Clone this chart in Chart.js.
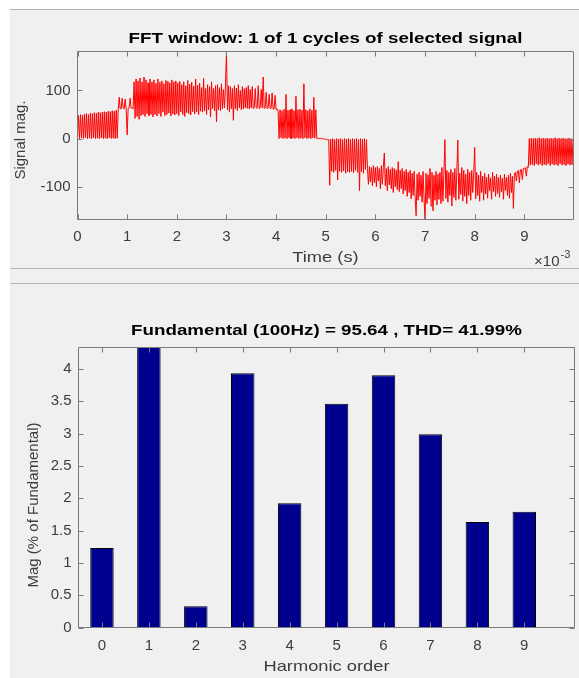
<!DOCTYPE html>
<html><head><meta charset="utf-8">
<script src="https://cdn.jsdelivr.net/npm/chart.js@4.4.1/dist/chart.umd.min.js"></script>
<style>
html,body{margin:0;padding:0;background:#fff;width:579px;height:678px;overflow:hidden;}
#bg{position:absolute;left:10px;top:9px;width:569px;height:668px;background:#f0f0f0;border-top:1px solid #b4b4b4;}
.sep{position:absolute;left:10px;width:569px;height:1px;background:#b4b4b4;}
canvas{position:absolute;left:0;}
</style></head><body>
<div id="bg"></div>
<div class="sep" style="top:268px"></div>
<div class="sep" style="top:283px"></div>
<canvas id="topChart" width="579" height="268" style="top:0"></canvas>
<canvas id="botChart" width="579" height="394" style="top:284px"></canvas>
<script>
// ---------- DATA ----------
const SAMPLE_DT = 0.02e-3; // seconds between samples
const signalValues = [
 2,48,0,50,1,49,0,51,2,52,0,50,1,53,0,52,2,54,0,53,1,55,0,54,2,
 55,0,56,1,55,0,57,2,56,0,58,1,57,0,59,1,60,86,62,62,84,63,62,82,62,
 8,63,64,84,63,64,62,118,42,124,46,120,40,126,48,118,50,128,46,122,52,116,48,124,50,
 118,45,122,50,115,47,124,52,117,46,120,55,114,48,121,50,119,53,116,47,122,51,118,49,120,
 52,116,48,119,55,112,50,118,46,110,54,121,52,113,49,117,56,109,51,124,55,111,50,115,57,
 106,55,125,58,104,50,112,60,108,45,118,62,104,58,110,35,112,60,106,58,114,62,102,64,108,
 180,60,110,55,108,62,104,38,110,62,105,58,112,64,100,60,108,62,104,64,106,63,110,62,102,
 64,108,62,65,104,63,64,110,62,65,102,64,128,63,64,96,62,64,92,62,63,95,61,62,90,
 60,62,58,0,60,2,58,0,61,1,92,0,59,2,60,0,62,1,58,0,88,2,60,0,61,
 1,59,0,114,2,60,0,58,1,62,0,59,2,86,1,60,0,1,0,0,1,0,-1,0,-1,
 -2,-1,-3,-2,-97,-1,-68,0,-70,-2,-66,0,-86,-1,-68,0,-70,-2,-67,0,-72,-1,-69,0,-70,
 -2,-68,0,-71,-1,-66,0,-70,-2,-108,0,-69,-1,-72,0,-64,-2,-62,-95,-58,-90,-60,-98,-56,-92,
 -60,-100,-58,-88,-62,-104,-56,-95,-60,-30,-98,-62,-108,-58,-96,-64,-104,-60,-112,-62,-100,-65,-106,-48,-110,
 -66,-104,-62,-115,-68,-108,-64,-120,-70,-112,-66,-125,-72,-118,-68,-122,-160,-74,-128,-70,-120,-76,-132,-68,-125,
 -168,-72,-135,-75,-124,-62,-140,-70,-150,-76,-128,-68,-138,-74,-126,-70,-135,-60,-130,-72,-2,-124,-66,-132,-70,
 -118,-64,-140,-70,-122,-62,-128,-68,-3,-126,-72,-116,-60,-130,-66,-120,-74,-135,-64,-118,-70,-128,-66,-112,-72,
 -18,-125,-70,-118,-76,-130,-68,-112,-78,-128,-72,-115,-80,-124,-74,-108,-82,-126,-70,-110,-78,-120,-74,-114,-80,
 -122,-76,-110,-82,-126,-74,-108,-80,-118,-76,-124,-72,-112,-78,-145,-72,-70,-88,-68,-66,-92,-65,-64,-85,-62,
 -62,-60,-78,-58,-60,0,-55,1,-54,0,-56,1,-52,0,-55,2,-53,0,-56,1,-54,0,-55,1,-52,
 0,-56,1,-53,0,-55,2,-54,0,-56,1,-52,0,-55,1,-54,0,-56,0,-53,1,-55,0,-54,0
];
const timeTicksMs = [0,1,2,3,4,5,6,7,8,9];
const signalTicks = [-100,0,100];

const harmonicOrders = [0,1,2,3,4,5,6,7,8,9];
const harmonicMags = [1.23,100,0.33,3.93,1.92,3.46,3.90,2.99,1.63,1.79];
const magTicks = [0,0.5,1,1.5,2,2.5,3,3.5,4];
const magTickLabels = ['0','0.5','1','1.5','2','2.5','3','3.5','4'];

// ---------- STYLE ----------
const FONT = "'Liberation Sans', Arial, Helvetica, sans-serif";
const BOX = '#7a7a7a';
const TXT = '#3c3c3c';

function stretchedText(ctx, text, x, y, sx, font, color) {
  ctx.save();
  ctx.font = font; ctx.fillStyle = color;
  ctx.textAlign = 'center'; ctx.textBaseline = 'middle';
  ctx.translate(x, y); ctx.scale(sx, 1);
  ctx.fillText(text, 0, 0);
  ctx.restore();
}

const matlabBox = {
  id: 'matlabBox',
  afterDraw(chart, args, o) {
    const {ctx, chartArea: a, scales} = chart;
    ctx.save();
    ctx.strokeStyle = BOX; ctx.lineWidth = 1;
    ctx.beginPath();
    ctx.rect(a.left, a.top, a.right - a.left, a.bottom - a.top);
    const TL = 5;
    scales.x.ticks.forEach(t => {
      const px = Math.round(scales.x.getPixelForValue(t.value)) + 0.5;
      ctx.moveTo(px, a.bottom); ctx.lineTo(px, a.bottom - TL);
      ctx.moveTo(px, a.top); ctx.lineTo(px, a.top + TL);
    });
    scales.y.ticks.forEach(t => {
      const py = Math.round(scales.y.getPixelForValue(t.value)) + 0.5;
      ctx.moveTo(a.left, py); ctx.lineTo(a.left + TL, py);
      ctx.moveTo(a.right, py); ctx.lineTo(a.right - TL, py);
    });
    ctx.stroke();
    ctx.restore();
    const cx = (a.left + a.right) / 2;
    // title
    stretchedText(ctx, o.title, cx, o.titleY, 1.25, 'bold 15px ' + FONT, '#000');
    // x label
    stretchedText(ctx, o.xLabel, cx, o.xLabelY, 1.22, '15px ' + FONT, TXT);
    // y label (rotated)
    ctx.save();
    ctx.font = '15px ' + FONT; ctx.fillStyle = TXT;
    ctx.textAlign = 'center'; ctx.textBaseline = 'middle';
    ctx.translate(o.yLabelX, o.yLabelY); ctx.rotate(-Math.PI / 2);
    ctx.fillText(o.yLabel, 0, 0);
    ctx.restore();
    if (o.exponent) {
      ctx.save();
      ctx.fillStyle = TXT; ctx.textBaseline = 'middle';
      ctx.font = '15px ' + FONT;
      ctx.textAlign = 'right';
      ctx.fillText('\u00d710', a.right - 14, o.expY);
      ctx.font = '11px ' + FONT;
      ctx.textAlign = 'left';
      ctx.fillText('-3', a.right - 13, o.expY - 7);
      ctx.restore();
    }
  }
};

const common = {responsive: false, animation: false, devicePixelRatio: 1, events: []};

// ---------- TOP: signal ----------
new Chart(document.getElementById('topChart'), {
  type: 'line',
  data: {
    datasets: [{
      data: signalValues.map((v, i) => ({x: i * SAMPLE_DT, y: v})),
      borderColor: '#ff0000', borderWidth: 1, pointRadius: 0, tension: 0, fill: false
    }]
  },
  options: Object.assign({}, common, {
    layout: {padding: {left: 0, right: 5.5, top: 51.5, bottom: 0}},
    plugins: {
      legend: {display: false}, tooltip: {enabled: false},
      matlabBox: {
        title: 'FFT window: 1 of 1 cycles of selected signal', titleY: 39,
        xLabel: 'Time (s)', xLabelY: 258,
        yLabel: 'Signal mag.', yLabelX: 21, yLabelY: 140,
        exponent: true, expY: 262
      }
    },
    scales: {
      x: {
        type: 'linear', min: 0, max: 0.00999,
        afterBuildTicks: s => { s.ticks = timeTicksMs.map(v => ({value: v / 1000})); },
        afterFit: s => { s.height = 48.5; },
        ticks: {callback: (v, i) => String(timeTicksMs[i]), color: TXT, font: {family: FONT, size: 15}, padding: 8, maxRotation: 0, autoSkip: false},
        grid: {display: false, drawTicks: false},
        border: {display: false}
      },
      y: {
        min: -168, max: 181,
        afterBuildTicks: s => { s.ticks = signalTicks.map(v => ({value: v})); },
        afterFit: s => { s.width = 77.5; },
        ticks: {callback: (v, i) => String(signalTicks[i]), color: TXT, font: {family: FONT, size: 15}, padding: 7},
        grid: {display: false, drawTicks: false},
        border: {display: false}
      }
    }
  }),
  plugins: [matlabBox]
});

// ---------- BOTTOM: harmonics ----------
new Chart(document.getElementById('botChart'), {
  type: 'bar',
  data: {
    datasets: [{
      data: harmonicOrders.map((h, i) => ({x: h, y: harmonicMags[i]})),
      backgroundColor: '#00008f', borderColor: '#000000', borderWidth: 1,
      barPercentage: 0.5, categoryPercentage: 1
    }]
  },
  options: Object.assign({}, common, {
    layout: {padding: {left: 0, right: 4.5, top: 63.5, bottom: 0}},
    plugins: {
      legend: {display: false}, tooltip: {enabled: false},
      matlabBox: {
        title: 'Fundamental (100Hz) = 95.64 , THD= 41.99%', titleY: 47,
        xLabel: 'Harmonic order', xLabelY: 383,
        yLabel: 'Mag (% of Fundamental)', yLabelX: 34, yLabelY: 221,
        exponent: false
      }
    },
    scales: {
      x: {
        type: 'linear', min: -0.5, max: 10.07, offset: false,
        afterBuildTicks: s => { s.ticks = harmonicOrders.map(v => ({value: v})); },
        afterFit: s => { s.height = 50.5; },
        ticks: {callback: (v, i) => String(harmonicOrders[i]), color: TXT, font: {family: FONT, size: 15}, padding: 9, maxRotation: 0, autoSkip: false},
        grid: {display: false, drawTicks: false, offset: false},
        border: {display: false}
      },
      y: {
        min: 0, max: 4.33,
        afterBuildTicks: s => { s.ticks = magTicks.map(v => ({value: v})); },
        afterFit: s => { s.width = 78.5; },
        ticks: {callback: (v, i) => magTickLabels[i], color: TXT, font: {family: FONT, size: 15}, padding: 7},
        grid: {display: false, drawTicks: false},
        border: {display: false}
      }
    }
  }),
  plugins: [matlabBox]
});
</script>
</body></html>
